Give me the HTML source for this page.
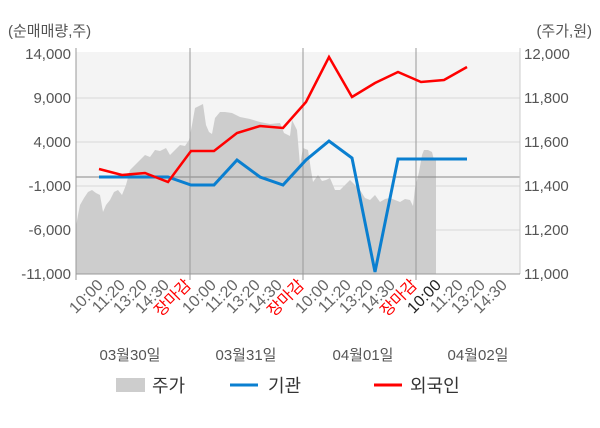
<!DOCTYPE html>
<html><head><meta charset="utf-8"><style>
body{margin:0;background:#fff;}
svg{display:block;font-family:"Liberation Sans","Noto Sans CJK KR",sans-serif;}
</style></head><body>
<svg width="600" height="428" viewBox="0 0 600 428" xmlns="http://www.w3.org/2000/svg">
<rect x="76" y="52" width="444" height="222" fill="#f4f4f4"/>
<g stroke="#d8d8d8" stroke-width="1">
<line x1="76" y1="98" x2="520" y2="98"/><line x1="76" y1="142" x2="520" y2="142"/>
<line x1="76" y1="186" x2="520" y2="186"/><line x1="76" y1="230" x2="520" y2="230"/>
</g>
<polygon fill="#cdcdcd" points="76,274 76,227 78,215 80,205 84,198 88,192 92,190 96,193 100,195 103,212 106,205 110,200 114,192 118,190 122,195 126,185 130,170 135,165 140,160 145,155 150,157 155,150 160,151 166,148 170,155 175,150 180,145 185,146 189,140 192,125 195,108 199,106 203,104 206,125 209,132 212,134 215,118 220,112 225,112 232,113 240,117 250,119 260,122 270,124 280,123 284,133 290,136 292,120 297,130 300,165 303,148 308,150 311,170 313,182 318,175 322,181 326,180 330,178 335,190 340,190 345,185 350,180 355,185 360,190 365,198 370,200 375,195 380,202 385,199 390,198 395,200 400,202 405,199 410,200 413,206 415,188 419,172 422,155 424,150 428,150 432,152 434,160 436,160 436,274"/>
<line x1="76" y1="177" x2="520" y2="177" stroke="#888" stroke-width="1"/>
<g stroke="#999" stroke-width="1">
<line x1="76" y1="48" x2="76" y2="280"/><line x1="190" y1="48" x2="190" y2="280"/>
<line x1="303" y1="48" x2="303" y2="280"/><line x1="416" y1="48" x2="416" y2="280"/>
<line x1="520" y1="48" x2="520" y2="274" stroke="#ccc"/>
<line x1="76" y1="274" x2="520" y2="274"/>
</g>
<polyline fill="none" stroke="#0a7fd0" stroke-width="3" points="99,177 122,177 145,177 168,177 191,185 214,185 237,160 260,177 283,185 306,160 329,141 352,158 375,272 398,159 421,159 444,159 467,159"/>
<polyline fill="none" stroke="#f00" stroke-width="2.5" points="99,169 122,175 145,173 168,182 191,151 214,151 237,133 260,126 283,128 306,102 329,57 352,97 375,83 398,72 421,82 444,80 467,67"/>
<g font-size="15" fill="#555" text-anchor="end">
<text x="71" y="59">14,000</text><text x="71" y="103">9,000</text><text x="71" y="147">4,000</text>
<text x="71" y="191">-1,000</text><text x="71" y="235">-6,000</text><text x="71" y="279">-11,000</text>
</g>
<g font-size="15" fill="#555">
<text x="524" y="59">12,000</text><text x="524" y="103">11,800</text><text x="524" y="147">11,600</text>
<text x="524" y="191">11,400</text><text x="524" y="235">11,200</text><text x="524" y="279">11,000</text>
<text x="8" y="36">(순매매량,주)</text><text x="592" y="36" text-anchor="end">(주가,원)</text>
</g>
<g font-size="16" fill="#666" text-anchor="end">
<text transform="translate(104,286) rotate(-45)">10:00</text>
<text transform="translate(126,286) rotate(-45)">11:20</text>
<text transform="translate(148,286) rotate(-45)">13:20</text>
<text transform="translate(170,286) rotate(-45)">14:30</text>
<text transform="translate(192,286) rotate(-45)" fill="#f00">장마감</text>
<text transform="translate(217,286) rotate(-45)">10:00</text>
<text transform="translate(239,286) rotate(-45)">11:20</text>
<text transform="translate(261,286) rotate(-45)">13:20</text>
<text transform="translate(283,286) rotate(-45)">14:30</text>
<text transform="translate(305,286) rotate(-45)" fill="#f00">장마감</text>
<text transform="translate(330,286) rotate(-45)">10:00</text>
<text transform="translate(352,286) rotate(-45)">11:20</text>
<text transform="translate(374,286) rotate(-45)">13:20</text>
<text transform="translate(396,286) rotate(-45)">14:30</text>
<text transform="translate(418,286) rotate(-45)" fill="#f00">장마감</text>
<text transform="translate(442,286) rotate(-45)" fill="#222">10:00</text>
<text transform="translate(464,286) rotate(-45)">11:20</text>
<text transform="translate(486,286) rotate(-45)">13:20</text>
<text transform="translate(508,286) rotate(-45)">14:30</text>
</g>
<g font-size="15" fill="#555" text-anchor="middle">
<text x="130" y="360">03월30일</text><text x="246" y="360">03월31일</text>
<text x="363" y="360">04월01일</text><text x="478" y="360">04월02일</text>
</g>
<rect x="116" y="378" width="29" height="14" fill="#cdcdcd"/>
<text x="152" y="392" font-size="18" fill="#333">주가</text>
<line x1="230" y1="385" x2="258" y2="385" stroke="#0a7fd0" stroke-width="3"/>
<text x="268" y="392" font-size="18" fill="#333">기관</text>
<line x1="374" y1="385" x2="402" y2="385" stroke="#f00" stroke-width="3"/>
<text x="410" y="392" font-size="18" fill="#333">외국인</text>
</svg>
</body></html>
